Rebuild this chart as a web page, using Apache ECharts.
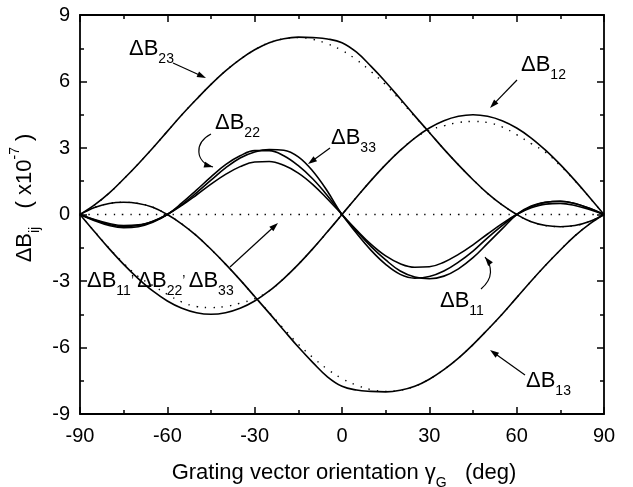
<!DOCTYPE html>
<html>
<head>
<meta charset="utf-8">
<script src="https://cdn.jsdelivr.net/npm/echarts@6/dist/echarts.min.js"></script>
<style>
  html, body { margin: 0; padding: 0; background: #fff; }
  #chart { width: 633px; height: 487px; }
</style>
</head>
<body>
<div id="chart"></div>
<script>
// grating vector orientation (deg), one point every 5 deg
var angles = [-90, -85, -80, -75, -70, -65, -60, -55, -50, -45, -40, -35, -30, -25, -20, -15, -10, -5, 0,
  5, 10, 15, 20, 25, 30, 35, 40, 45, 50, 55, 60, 65, 70, 75, 80, 85, 90];

// solid curves (x1e-7)
var b23 = [0, 0.43, 0.96, 1.6, 2.28, 3.0, 3.75, 4.5, 5.2, 5.87, 6.48, 7.0, 7.43, 7.75, 7.93, 8.0, 7.98, 7.92, 7.75,
  7.32, 6.68, 5.98, 5.22, 4.45, 3.7, 2.95, 2.24, 1.57, 0.95, 0.43, 0, -0.33, -0.5, -0.55, -0.5, -0.32, 0];
var b13 = [0, 0.32, 0.5, 0.55, 0.5, 0.33, 0, -0.43, -0.95, -1.57, -2.24, -2.95, -3.7, -4.45, -5.22, -5.98, -6.68, -7.32, -7.75,
  -7.92, -7.98, -8.0, -7.93, -7.75, -7.43, -7.0, -6.48, -5.87, -5.2, -4.5, -3.75, -3.0, -2.28, -1.6, -0.96, -0.43, 0];
var b12 = [0, -0.78, -1.54, -2.25, -2.89, -3.45, -3.9, -4.23, -4.43, -4.5, -4.43, -4.23, -3.9, -3.45, -2.89, -2.25, -1.54, -0.78, 0,
  0.78, 1.54, 2.25, 2.89, 3.45, 3.9, 4.23, 4.43, 4.5, 4.43, 4.23, 3.9, 3.45, 2.89, 2.25, 1.54, 0.78, 0];
var b11 = [0, -0.23, -0.41, -0.5, -0.47, -0.3, 0, 0.41, 0.88, 1.37, 1.81, 2.16, 2.37, 2.39, 2.22, 1.87, 1.35, 0.7, 0,
  -0.7, -1.35, -1.87, -2.22, -2.38, -2.36, -2.15, -1.8, -1.37, -0.88, -0.41, 0, 0.3, 0.47, 0.5, 0.41, 0.23, 0];
var b22 = [0, -0.28, -0.5, -0.6, -0.55, -0.35, 0, 0.52, 1.1, 1.7, 2.25, 2.65, 2.88, 2.88, 2.65, 2.2, 1.6, 0.85, 0,
  -0.85, -1.62, -2.25, -2.7, -2.87, -2.8, -2.55, -2.15, -1.65, -1.05, -0.5, 0, 0.35, 0.55, 0.6, 0.5, 0.28, 0];
var b33 = [0, -0.25, -0.45, -0.55, -0.5, -0.32, 0, 0.45, 0.98, 1.55, 2.1, 2.55, 2.82, 2.93, 2.9, 2.6, 1.95, 1.05, 0,
  -0.75, -1.45, -2.05, -2.55, -2.82, -2.9, -2.78, -2.45, -1.95, -1.3, -0.65, 0, 0.38, 0.55, 0.6, 0.5, 0.28, 0];

// dotted curves
var b23Dot = [0, 0.43, 0.96, 1.6, 2.28, 3.0, 3.75, 4.5, 5.2, 5.87, 6.48, 7.0, 7.43, 7.75, 7.93, 7.98, 7.9, 7.7, 7.4,
  6.98, 6.45, 5.85, 5.15, 4.42, 3.7, 2.95, 2.24, 1.57, 0.95, 0.43, 0, -0.33, -0.5, -0.55, -0.5, -0.32, 0];
var b13Dot = [0, 0.32, 0.5, 0.55, 0.5, 0.33, 0, -0.43, -0.95, -1.57, -2.24, -2.95, -3.7, -4.42, -5.15, -5.85, -6.45, -6.98, -7.4,
  -7.7, -7.9, -7.98, -7.93, -7.75, -7.43, -7.0, -6.48, -5.87, -5.2, -4.5, -3.75, -3.0, -2.28, -1.6, -0.96, -0.43, 0];
var b12Dot = [0, -0.77, -1.52, -2.2, -2.8, -3.2, -3.6, -3.95, -4.15, -4.2, -4.15, -4.0, -3.8, -3.45, -2.89, -2.25, -1.54, -0.78, 0,
  0.78, 1.54, 2.25, 2.89, 3.45, 3.8, 4.0, 4.15, 4.2, 4.15, 3.95, 3.6, 3.2, 2.8, 2.2, 1.52, 0.77, 0];
var bDiagDot = [0, 0, 0, 0, 0, 0, 0, 0, 0, 0, 0, 0, 0, 0, 0, 0, 0, 0, 0,
  0, 0, 0, 0, 0, 0, 0, 0, 0, 0, 0, 0, 0, 0, 0, 0, 0, 0];

var xTicks = [-90, -60, -30, 0, 30, 60, 90];
var yTicks = [-9, -6, -3, 0, 3, 6, 9];

var FONT = "Liberation Sans";

function makeSeries(name, vals, dotted) {
  return {
    name: name,
    type: "line",
    data: angles.map(function (a, i) { return [a, vals[i]]; }),
    smooth: 0.4,
    showSymbol: false,
    silent: true,
    lineStyle: dotted
      ? { color: "#000", width: 1.4, type: [1.4, 7] }
      : { color: "#000", width: 1.6 }
  };
}

function axisX(pos, labels) {
  return {
    type: "value", position: pos,
    min: xTicks[0], max: xTicks[xTicks.length - 1], interval: 30,
    axisLine: { show: true, onZero: false, lineStyle: { color: "#000", width: 1.8 } },
    axisTick: { show: true, inside: true, length: 7, lineStyle: { color: "#000", width: 1.5 } },
    minorTick: { show: true, splitNumber: 2, length: 4, lineStyle: { color: "#000", width: 1.5 } },
    splitLine: { show: false },
    axisLabel: { show: labels, color: "#000", fontSize: 20, fontFamily: FONT, margin: 12 }
  };
}
function axisY(pos, labels) {
  return {
    type: "value", position: pos,
    min: yTicks[0], max: yTicks[yTicks.length - 1], interval: 3,
    axisLine: { show: true, onZero: false, lineStyle: { color: "#000", width: 1.8 } },
    axisTick: { show: true, inside: true, length: 7, lineStyle: { color: "#000", width: 1.5 } },
    minorTick: { show: true, splitNumber: 2, length: 4, lineStyle: { color: "#000", width: 1.5 } },
    splitLine: { show: false },
    axisLabel: { show: labels, color: "#000", fontSize: 20, fontFamily: FONT, margin: 10 }
  };
}

var rich = {
  m: { fontSize: 22, fontFamily: FONT, color: "#000", lineHeight: 34 },
  s: { fontSize: 14, fontFamily: FONT, color: "#000", lineHeight: 14, verticalAlign: "bottom" },
  c: { fontSize: 14, fontFamily: FONT, color: "#000", lineHeight: 14, verticalAlign: "middle" },
  p: { fontSize: 14, fontFamily: FONT, color: "#000", lineHeight: 14, verticalAlign: "top" }
};

function label(txt, x, y) {
  return { type: "text", x: x, y: y, silent: true,
    style: { text: txt, rich: rich, align: "left", verticalAlign: "middle" } };
}
function arrowHead(x, y, ang) {
  var L = 9, W = 3;
  var c = Math.cos(ang), s = Math.sin(ang);
  return { type: "polygon", silent: true,
    shape: { points: [[x, y], [x - L * c + W * s, y - L * s - W * c], [x - L * c - W * s, y - L * s + W * c]] },
    style: { fill: "#000" } };
}
function arrow(x1, y1, x2, y2) {
  var ang = Math.atan2(y2 - y1, x2 - x1);
  return [
    { type: "line", silent: true, shape: { x1: x1, y1: y1, x2: x2 - 6 * Math.cos(ang), y2: y2 - 6 * Math.sin(ang) },
      style: { stroke: "#000", lineWidth: 1.2 } },
    arrowHead(x2, y2, ang)
  ];
}
function curvedArrow(p0, c1, c2, p1) {
  var ang = Math.atan2(p1[1] - c2[1], p1[0] - c2[0]);
  return [
    { type: "bezierCurve", silent: true,
      shape: { x1: p0[0], y1: p0[1], cpx1: c1[0], cpy1: c1[1], cpx2: c2[0], cpy2: c2[1], x2: p1[0], y2: p1[1] },
      style: { stroke: "#000", lineWidth: 1.2, fill: null } },
    arrowHead(p1[0], p1[1], ang)
  ];
}

var graphics = [
  label("{m|ΔB}{s|23}", 129, 49),
  label("{m|ΔB}{s|22}", 215, 123),
  label("{m|ΔB}{s|33}", 331, 138),
  label("{m|ΔB}{s|12}", 521, 65),
  label("{m|ΔB}{s|11}", 440, 301),
  label("{m|ΔB}{s|13}", 526, 381),
  label("{m|ΔB}{s|11}{c|’} {m|ΔB}{s|22}{c|’} {m|ΔB}{s|33}", 87, 281),
  { type: "text", x: 25, y: 198, rotation: Math.PI / 2, silent: true,
    style: { text: "{m|ΔB}{s|ij}{m|   ( x10}{p|-7}{m| )}", rich: rich, align: "center", verticalAlign: "middle" } },
  { type: "text", x: 344, y: 473, silent: true,
    style: { text: "{m|Grating vector orientation γ}{s|G}{m|   (deg)}", rich: rich, align: "center", verticalAlign: "middle" } }
]
  .concat(arrow(173, 63, 206, 78))
  .concat(arrow(330, 148, 308, 164))
  .concat(arrow(517, 80, 490, 108))
  .concat(arrow(525, 375, 490, 350))
  .concat(arrow(230, 267, 278, 223))
  .concat(curvedArrow([211, 134], [194, 143], [195, 162], [213, 167]))
  .concat(curvedArrow([481, 289], [494, 278], [492, 266], [485, 257]));

var chart = echarts.init(document.getElementById("chart"));
chart.setOption({
  animation: false,
  backgroundColor: "#fff",
  grid: { left: 80, right: 29, top: 15, bottom: 73 },
  xAxis: [axisX("bottom", true), axisX("top", false)],
  yAxis: [axisY("left", true), axisY("right", false)],
  series: [
    makeSeries("dB23", b23, false),
    makeSeries("dB13", b13, false),
    makeSeries("dB12", b12, false),
    makeSeries("dB11", b11, false),
    makeSeries("dB22", b22, false),
    makeSeries("dB33", b33, false),
    makeSeries("dB23 dot", b23Dot, true),
    makeSeries("dB13 dot", b13Dot, true),
    makeSeries("dB12 dot", b12Dot, true),
    makeSeries("dBii dot", bDiagDot, true)
  ],
  graphic: graphics
});
</script>
</body>
</html>
